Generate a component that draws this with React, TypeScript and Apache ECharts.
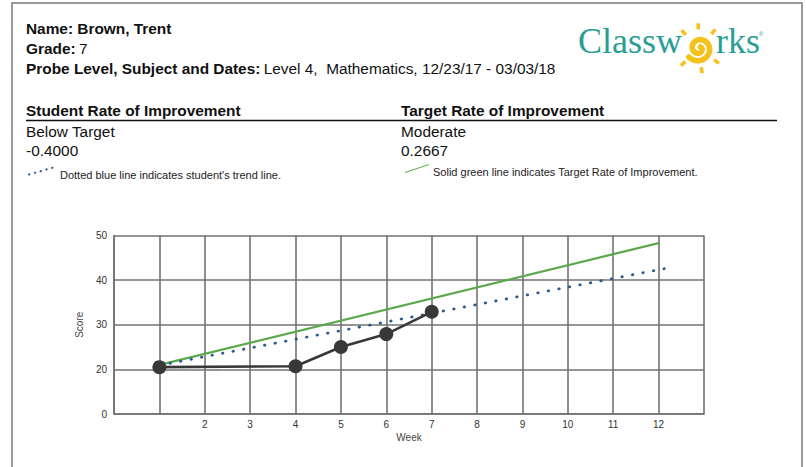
import React, { useEffect, useRef } from "react";
import * as echarts from "echarts";

// ---- data ----
const weeks = [1, 4, 5, 6, 7];
const scores = [20.5, 20.7, 25, 27.9, 32.9];
const trendWeeks = [1, 12.3];
const trendScores = [20.9, 42.9];
const targetWeeks = [1, 12];
const targetScores = [21, 48.3];
const xLabelWeeks = [2, 3, 4, 5, 6, 7, 8, 9, 10, 11, 12];
const yLabelMap: Record<number, string> = { 10: "0", 20: "20", 30: "30", 40: "40", 50: "50" };

const FONT = "'Liberation Sans', Arial, sans-serif";
const FS = 15.4;

function sunElements(cx: number, cy: number) {
  const yellow = "#f5c21b";
  const pts: number[][] = [];
  const t0 = -0.25 * Math.PI;
  const t1 = 2.8 * Math.PI;
  for (let t = t0; t <= t1 + 1e-6; t += 0.1) {
    const r = 2 + ((t - t0) / (t1 - t0)) * 11.5;
    pts.push([cx + r * Math.cos(t), cy + r * Math.sin(t)]);
  }
  const rays = [-134, -92, -49, 83, 136, 37];
  const els: any[] = [
    {
      type: "polyline",
      shape: { points: pts },
      style: { stroke: yellow, lineWidth: 5.6, fill: null, lineCap: "round" },
    },
  ];
  rays.forEach((a) => {
    const rad = (a * Math.PI) / 180;
    els.push({
      type: "line",
      shape: {
        x1: cx + 19 * Math.cos(rad),
        y1: cy + 19 * Math.sin(rad),
        x2: cx + 25 * Math.cos(rad),
        y2: cy + 25 * Math.sin(rad),
      },
      style: { stroke: yellow, lineWidth: 3.6 },
    });
  });
  return els;
}

export default function App() {
  const ref = useRef<HTMLDivElement>(null);
  useEffect(() => {
    const chart = echarts.init(ref.current!, undefined, { renderer: "svg" });
    const teal = "#2a9e95";
    const rich = {
      b: { fontFamily: FONT, fontSize: FS, fontWeight: "bold", fill: "#111" },
      n: { fontFamily: FONT, fontSize: FS, fill: "#111" },
    };
    const option: any = {
      animation: false,
      backgroundColor: "#ffffff",
      grid: { left: 114, right: 102, top: 235.5, bottom: 53, containLabel: false },
      xAxis: {
        type: "value",
        min: 0,
        max: 13,
        interval: 1,
        name: "Week",
        nameLocation: "middle",
        nameGap: 18,
        nameTextStyle: { fontFamily: FONT, fontSize: 10, color: "#444" },
        axisLine: { show: true, lineStyle: { color: "#727272", width: 1.6 } },
        axisTick: { show: false },
        axisLabel: {
          margin: 5,
          fontFamily: FONT,
          fontSize: 10,
          color: "#333",
          formatter: (v: number) => (xLabelWeeks.indexOf(v) >= 0 ? String(v) : ""),
        },
        splitLine: { show: true, lineStyle: { color: "#727272", width: 1.6 } },
      },
      yAxis: {
        type: "value",
        min: 10,
        max: 50,
        interval: 10,
        name: "Score",
        nameLocation: "middle",
        nameGap: 25,
        nameRotate: 90,
        nameTextStyle: { fontFamily: FONT, fontSize: 10, color: "#444" },
        axisLine: { show: true, lineStyle: { color: "#727272", width: 1.6 } },
        axisTick: { show: false },
        axisLabel: {
          margin: 7,
          fontFamily: FONT,
          fontSize: 10,
          color: "#333",
          formatter: (v: number) => yLabelMap[v] ?? "",
        },
        splitLine: { show: true, lineStyle: { color: "#727272", width: 1.6 } },
      },
      series: [
        {
          name: "Target",
          type: "line",
          data: targetWeeks.map((w, i) => [w, targetScores[i]]),
          symbol: "none",
          lineStyle: { color: "#5ba94b", width: 2.2 },
          z: 3,
        },
        {
          name: "Trend",
          type: "line",
          data: trendWeeks.map((w, i) => [w, trendScores[i]]),
          symbol: "none",
          lineStyle: { color: "#2c5b8c", width: 2.8, type: [0.5, 10.2], cap: "round" },
          z: 4,
        },
        {
          name: "Score",
          type: "line",
          data: weeks.map((w, i) => [w, scores[i]]),
          symbol: "circle",
          symbolSize: 14,
          itemStyle: { color: "#383838" },
          lineStyle: { color: "#383838", width: 2.6 },
          z: 5,
        },
      ],
      graphic: [
        {
          type: "rect",
          shape: { x: 12, y: 3, width: 790, height: 480 },
          style: { fill: null, stroke: "#7a7a7a", lineWidth: 1.5 },
          silent: true,
        },
        {
          type: "text",
          x: 26,
          y: 28,
          style: { text: "Name: Brown, Trent", font: `bold ${FS}px ${FONT}`, fill: "#111", verticalAlign: "middle" },
        },
        {
          type: "text",
          x: 26,
          y: 48,
          style: { text: "{b|Grade:} {n|7}", verticalAlign: "middle", fill: "#111", rich },
        },
        {
          type: "text",
          x: 26,
          y: 68.5,
          style: {
            text: "{b|Probe Level, Subject and Dates:} {n|Level 4,  Mathematics, 12/23/17 - 03/03/18}",
            verticalAlign: "middle",
            fill: "#111",
            rich,
          },
        },
        {
          type: "text",
          x: 26,
          y: 110,
          style: { text: "Student Rate of Improvement", font: `bold ${FS}px ${FONT}`, fill: "#111", verticalAlign: "middle" },
        },
        {
          type: "text",
          x: 401,
          y: 110,
          style: { text: "Target Rate of Improvement", font: `bold ${FS}px ${FONT}`, fill: "#111", verticalAlign: "middle" },
        },
        {
          type: "line",
          shape: { x1: 26, y1: 120.5, x2: 777, y2: 120.5 },
          style: { stroke: "#111", lineWidth: 1.5 },
        },
        {
          type: "text",
          x: 26,
          y: 131,
          style: { text: "Below Target", font: `${FS}px ${FONT}`, fill: "#111", verticalAlign: "middle" },
        },
        {
          type: "text",
          x: 26,
          y: 150.5,
          style: { text: "-0.4000", font: `${FS}px ${FONT}`, fill: "#111", verticalAlign: "middle" },
        },
        {
          type: "text",
          x: 401,
          y: 131,
          style: { text: "Moderate", font: `${FS}px ${FONT}`, fill: "#111", verticalAlign: "middle" },
        },
        {
          type: "text",
          x: 401,
          y: 150.5,
          style: { text: "0.2667", font: `${FS}px ${FONT}`, fill: "#111", verticalAlign: "middle" },
        },
        {
          type: "line",
          shape: { x1: 29, y1: 174.5, x2: 55, y2: 167 },
          style: { stroke: "#2c5b8c", lineWidth: 2, lineDash: [0.5, 5.5], lineCap: "round" },
        },
        {
          type: "text",
          x: 60,
          y: 175,
          style: { text: "Dotted blue line indicates student's trend line.", font: `11px ${FONT}`, fill: "#222", verticalAlign: "middle" },
        },
        {
          type: "line",
          shape: { x1: 405, y1: 172.5, x2: 429, y2: 164.5 },
          style: { stroke: "#6cb35c", lineWidth: 1.3 },
        },
        {
          type: "text",
          x: 433,
          y: 172,
          style: { text: "Solid green line indicates Target Rate of Improvement.", font: `11px ${FONT}`, fill: "#222", verticalAlign: "middle" },
        },
        {
          type: "text",
          x: 682,
          y: 41,
          style: { text: "Classw", font: `36px 'Liberation Serif', 'Times New Roman', serif`, fill: teal, align: "right", verticalAlign: "middle" },
        },
        {
          type: "text",
          x: 716,
          y: 41,
          style: { text: "rks", font: `36px 'Liberation Serif', 'Times New Roman', serif`, fill: teal, align: "left", verticalAlign: "middle" },
        },
        {
          type: "text",
          x: 761,
          y: 34,
          style: { text: "®", font: `6px ${FONT}`, fill: teal, align: "center", verticalAlign: "middle" },
        },
        ...sunElements(699, 48.3),
      ],
    };
    chart.setOption(option);
    return () => chart.dispose();
  }, []);
  return <div ref={ref} style={{ position: "fixed", left: 0, top: 0, width: 806, height: 467 }} />;
}
